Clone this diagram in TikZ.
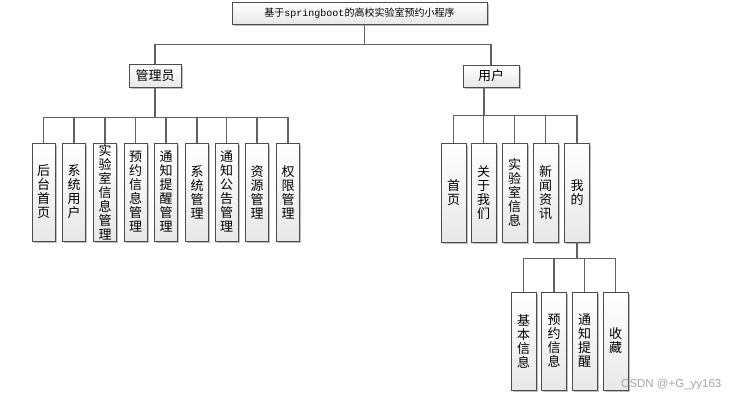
\documentclass[tikz,border=0pt]{standalone}
\usepackage{fontspec}
\setmainfont{Noto Sans CJK SC}
\newfontfamily\monofnt{Liberation Mono}
\newfontfamily\wmfnt{Liberation Sans}
\usetikzlibrary{shadows}
\tikzset{
  box/.style={draw=black!70, line width=0.8pt, top color=white, bottom color=black!9,
    drop shadow={shadow xshift=1.5pt, shadow yshift=-1.5pt, fill=black!25, opacity=1},
    inner sep=0pt, align=center},
  vbox/.style={box, minimum width=23pt, minimum height=98pt, font=\fontsize{13}{14}\selectfont},
  link/.style={draw=black!62, line width=1.2pt},
}
\begin{document}
\begin{tikzpicture}[x=1pt,y=-1pt]
\fill[white] (0,0) rectangle (735,400);
\useasboundingbox (0,0) rectangle (735,400);

\node[box, minimum width=255pt, minimum height=22pt, font=\fontsize{10}{12}\selectfont] (title) at (359.5,13) {基于{\monofnt springboot}的高校实验室预约小程序};
\node[box, minimum width=52pt, minimum height=23pt, font=\fontsize{13}{14}\selectfont] (admin) at (155,75.5) {管理员};
\node[box, minimum width=56pt, minimum height=22pt, font=\fontsize{13}{14}\selectfont] (user) at (491,76) {用户};

% admin children
\node[vbox] (a1) at (43.5,192) {后\\台\\首\\页};
\node[vbox] (a2) at (74,192) {系\\统\\用\\户};
\node[vbox] (a3) at (105,192) {实\\验\\室\\信\\息\\管\\理};
\node[vbox] (a4) at (135.5,192) {预\\约\\信\\息\\管\\理};
\node[vbox] (a5) at (166,192) {通\\知\\提\\醒\\管\\理};
\node[vbox] (a6) at (197,192) {系\\统\\管\\理};
\node[vbox] (a7) at (226.5,192) {通\\知\\公\\告\\管\\理};
\node[vbox] (a8) at (257,192) {资\\源\\管\\理};
\node[vbox] (a9) at (288,192) {权\\限\\管\\理};

% user children
\node[vbox, minimum width=25pt, minimum height=99pt] (u1) at (453.5,192.5) {首\\页};
\node[vbox, minimum width=25pt, minimum height=99pt] (u2) at (483.5,192.5) {关\\于\\我\\们};
\node[vbox, minimum width=25pt, minimum height=99pt] (u3) at (514.5,192.5) {实\\验\\室\\信\\息};
\node[vbox, minimum width=25pt, minimum height=99pt] (u4) at (545.5,192.5) {新\\闻\\资\\讯};
\node[vbox, minimum width=25pt, minimum height=99pt] (u5) at (577,192.5) {我\\的};

% mine children
\node[vbox, minimum width=25pt] (m1) at (523.5,341) {基\\本\\信\\息};
\node[vbox, minimum width=25pt] (m2) at (554,341) {预\\约\\信\\息};
\node[vbox, minimum width=25pt] (m3) at (584.5,341) {通\\知\\提\\醒};
\node[vbox, minimum width=25pt] (m4) at (615.5,341) {收\\藏};

% connectors
\draw[link] ([xshift=5pt]title.south) -- ++(0,20) coordinate (tb);
\draw[link] (tb) -| (admin.north);
\draw[link] (tb) -| (user.north);
\foreach \i in {1,...,9}{\draw[link] (admin.south) -- ++(0,30) -| (a\i.north);}
\foreach \i in {1,...,5}{\draw[link] ([xshift=-7pt]user.south) -- ++(0,28) -| (u\i.north);}
\foreach \i in {1,...,4}{\draw[link] (u5.south) -- ++(0,16) -| (m\i.north);}

\node[font=\wmfnt\fontsize{11.5}{13}\selectfont, text=black!35, anchor=west, inner sep=0pt] (wm) at (621,385) {CSDN @+G\_yy163};
\end{tikzpicture}
\end{document}
